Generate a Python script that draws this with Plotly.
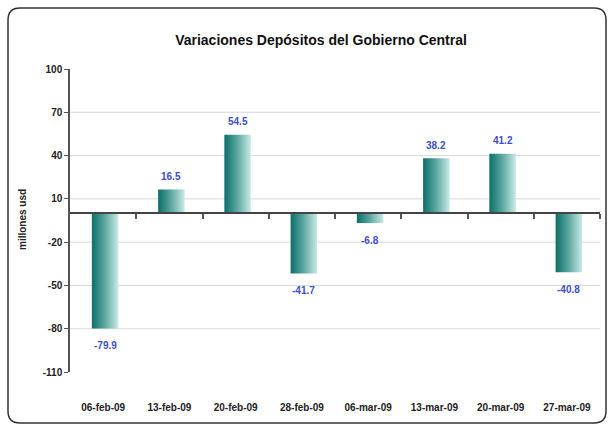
import plotly.graph_objects as go

categories = ["06-feb-09", "13-feb-09", "20-feb-09", "28-feb-09",
              "06-mar-09", "13-mar-09", "20-mar-09", "27-mar-09"]
values = [-79.9, 16.5, 54.5, -41.7, -6.8, 38.2, 41.2, -40.8]
y_ticks = [100, 70, 40, 10, -20, -50, -80, -110]
y_tick_text = ["100", "70", "40", "10", "-20", "-50", "-80", "-110"]
grid_vals = [70, 40, 10, -20, -50, -80]

W, H = 613, 429
ML, MR, MT, MB = 70, 13, 69, 57
YMIN, YMAX = -110, 100
BAR_W = 0.40
BAR_SHIFT = 0.03
FONT = "Arial, Liberation Sans"

fig = go.Figure()

# gradient bars
for i, v in enumerate(values):
    xc = i + 1 + BAR_SHIFT
    x0, x1 = xc - BAR_W / 2, xc + BAR_W / 2
    fig.add_trace(go.Scatter(
        x=[x0, x1, x1, x0, x0], y=[0, 0, v, v, 0],
        mode="lines", fill="toself", line=dict(width=0),
        fillgradient=dict(type="horizontal",
                          colorscale=[[0, "#0b6f68"], [0.45, "#55a29c"], [1, "#c9eae6"]]),
        hoverinfo="skip", showlegend=False))

# invisible trace for zero-line axis
fig.add_trace(go.Scatter(x=[1], y=[0], xaxis="x2", mode="markers",
                         marker=dict(opacity=0), hoverinfo="skip", showlegend=False))

zero_pos = (0 - YMIN) / (YMAX - YMIN)

annotations = []
for i, v in enumerate(values):
    annotations.append(dict(
        x=i + 1 + BAR_SHIFT, y=v, xref="x", yref="y", text=f"{v:.1f}",
        showarrow=False, xanchor="center", yanchor="middle",
        yshift=13 if v >= 0 else -17,
        font=dict(family=FONT, size=10, color="#3a4fc8", weight="bold")))
annotations.append(dict(text="<b>millones usd</b>", textangle=-90, xref="paper", yref="paper",
                        x=(22 - ML) / (W - ML - MR), y=(372 - 220) / (372 - 69),
                        xanchor="center", yanchor="middle", showarrow=False,
                        font=dict(family=FONT, size=10, color="#222222")))

fig.update_layout(
    width=W, height=H,
    margin=dict(l=ML, r=MR, t=MT, b=MB),
    paper_bgcolor="white", plot_bgcolor="white",
    title=dict(text="<b>Variaciones Depósitos del Gobierno Central</b>",
               x=321 / W, xanchor="center", y=1 - 40 / H, yanchor="middle",
               font=dict(family=FONT, size=14, color="#111111")),
    xaxis=dict(range=[0.5, 8.5], tickvals=list(range(1, 9)), ticktext=categories,
               showgrid=False, zeroline=False, showline=False,
               ticks="outside", ticklen=26, tickcolor="rgba(0,0,0,0)",
               tickfont=dict(family=FONT, size=10, color="#222222", weight="bold")),
    xaxis2=dict(range=[0.5, 8.5], overlaying="x", anchor="free", position=zero_pos,
                side="bottom", tickvals=[i + 1.5 for i in range(8)],
                showticklabels=False, ticks="outside", ticklen=5, tickwidth=1.5,
                tickcolor="#555555", showline=True, linecolor="#444444", linewidth=2,
                showgrid=False, zeroline=False),
    yaxis=dict(range=[YMIN, YMAX], tickvals=y_ticks, ticktext=y_tick_text,
               showgrid=False, zeroline=False,
               showline=True, linecolor="#555555", linewidth=1.5,
               ticks="outside", ticklen=4, tickcolor="#555555",
               tickfont=dict(family=FONT, size=10, color="#222222", weight="bold")),
    annotations=annotations,
)

shapes = []
for g in grid_vals:
    shapes.append(dict(type="line", xref="paper", yref="y", x0=0, x1=1, y0=g, y1=g,
                       line=dict(color="#d8d8d8", width=1), layer="below"))

# rounded outer border (pixel -> paper conversion)
pw, ph = W - ML - MR, H - MT - MB
def px(x):
    return (x - ML) / pw
def py(y):
    return (H - MB - y) / ph
L, R, T, B, r = 8, 606, 8, 423, 12
path = (f"M {px(L + r)},{py(T)} L {px(R - r)},{py(T)} "
        f"Q {px(R)},{py(T)} {px(R)},{py(T + r)} L {px(R)},{py(B - r)} "
        f"Q {px(R)},{py(B)} {px(R - r)},{py(B)} L {px(L + r)},{py(B)} "
        f"Q {px(L)},{py(B)} {px(L)},{py(B - r)} L {px(L)},{py(T + r)} "
        f"Q {px(L)},{py(T)} {px(L + r)},{py(T)} Z")
shapes.append(dict(type="path", xref="paper", yref="paper", path=path,
                   line=dict(color="#333333", width=1.5), layer="below"))
fig.update_layout(shapes=shapes)

fig.write_html("out.html", config={"displayModeBar": False},
               post_script="document.body.style.margin='0';")
